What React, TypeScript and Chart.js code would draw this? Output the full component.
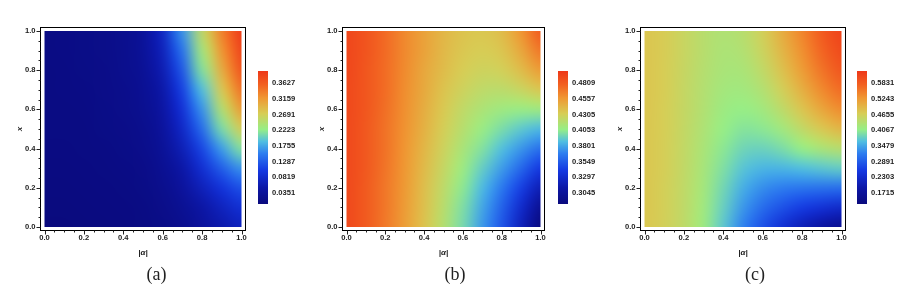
import React, { useEffect, useRef } from "react";
import { Chart, registerables } from "chart.js";

Chart.register(...registerables);

// ---------------- data ----------------
const ALPHA = [0, 0.1, 0.2, 0.3, 0.4, 0.5, 0.6, 0.7, 0.8, 0.9, 1.0];
// rows listed from x = 1.0 (top of plot) down to x = 0.0 (bottom)
const X_ROWS = [1.0, 0.9, 0.8, 0.7, 0.6, 0.5, 0.4, 0.3, 0.2, 0.1, 0.0];

const VALUES_A = [
  [0.010, 0.011, 0.013, 0.016, 0.022, 0.035, 0.075, 0.165, 0.255, 0.335, 0.395],
  [0.010, 0.011, 0.013, 0.016, 0.021, 0.033, 0.068, 0.145, 0.235, 0.320, 0.385],
  [0.009, 0.010, 0.012, 0.015, 0.020, 0.030, 0.060, 0.125, 0.215, 0.300, 0.370],
  [0.009, 0.010, 0.011, 0.014, 0.018, 0.027, 0.052, 0.108, 0.190, 0.275, 0.345],
  [0.008, 0.009, 0.010, 0.013, 0.017, 0.024, 0.045, 0.092, 0.165, 0.245, 0.315],
  [0.008, 0.008, 0.009, 0.012, 0.015, 0.021, 0.038, 0.078, 0.140, 0.210, 0.270],
  [0.007, 0.007, 0.008, 0.010, 0.013, 0.018, 0.032, 0.064, 0.112, 0.170, 0.215],
  [0.006, 0.006, 0.007, 0.009, 0.011, 0.015, 0.026, 0.050, 0.088, 0.130, 0.165],
  [0.005, 0.005, 0.006, 0.007, 0.009, 0.012, 0.020, 0.038, 0.066, 0.095, 0.120],
  [0.004, 0.004, 0.005, 0.006, 0.007, 0.010, 0.016, 0.028, 0.048, 0.070, 0.090],
  [0.003, 0.003, 0.004, 0.005, 0.006, 0.008, 0.013, 0.022, 0.038, 0.055, 0.070],
];

const VALUES_B = [
  [0.492, 0.485, 0.475, 0.463, 0.452, 0.443, 0.437, 0.435, 0.440, 0.458, 0.482],
  [0.492, 0.485, 0.475, 0.463, 0.452, 0.442, 0.435, 0.432, 0.436, 0.450, 0.470],
  [0.492, 0.484, 0.474, 0.462, 0.450, 0.440, 0.432, 0.428, 0.430, 0.440, 0.455],
  [0.491, 0.484, 0.474, 0.461, 0.449, 0.437, 0.428, 0.422, 0.421, 0.426, 0.435],
  [0.491, 0.484, 0.473, 0.460, 0.447, 0.434, 0.423, 0.415, 0.410, 0.408, 0.410],
  [0.491, 0.483, 0.472, 0.459, 0.445, 0.431, 0.419, 0.408, 0.399, 0.391, 0.385],
  [0.491, 0.483, 0.472, 0.458, 0.443, 0.428, 0.414, 0.401, 0.388, 0.375, 0.362],
  [0.491, 0.483, 0.471, 0.457, 0.441, 0.425, 0.409, 0.393, 0.377, 0.359, 0.340],
  [0.491, 0.482, 0.470, 0.456, 0.439, 0.422, 0.404, 0.386, 0.366, 0.343, 0.319],
  [0.491, 0.482, 0.470, 0.455, 0.438, 0.420, 0.400, 0.380, 0.357, 0.330, 0.300],
  [0.491, 0.482, 0.469, 0.454, 0.437, 0.418, 0.398, 0.376, 0.352, 0.322, 0.288],
];

const VALUES_C = [
  [0.478, 0.470, 0.455, 0.440, 0.432, 0.440, 0.465, 0.505, 0.545, 0.585, 0.615],
  [0.478, 0.470, 0.455, 0.440, 0.430, 0.435, 0.458, 0.495, 0.535, 0.575, 0.605],
  [0.478, 0.469, 0.454, 0.438, 0.427, 0.428, 0.448, 0.482, 0.522, 0.560, 0.590],
  [0.478, 0.469, 0.453, 0.436, 0.422, 0.420, 0.435, 0.465, 0.502, 0.540, 0.568],
  [0.478, 0.468, 0.452, 0.434, 0.416, 0.410, 0.420, 0.445, 0.478, 0.512, 0.538],
  [0.477, 0.468, 0.451, 0.431, 0.410, 0.399, 0.403, 0.420, 0.448, 0.475, 0.495],
  [0.477, 0.467, 0.450, 0.428, 0.403, 0.385, 0.382, 0.392, 0.410, 0.428, 0.440],
  [0.477, 0.467, 0.449, 0.425, 0.395, 0.370, 0.358, 0.358, 0.365, 0.372, 0.378],
  [0.477, 0.466, 0.448, 0.422, 0.387, 0.353, 0.330, 0.318, 0.312, 0.308, 0.305],
  [0.477, 0.466, 0.447, 0.419, 0.380, 0.337, 0.303, 0.278, 0.258, 0.242, 0.228],
  [0.476, 0.465, 0.446, 0.416, 0.373, 0.322, 0.278, 0.240, 0.208, 0.180, 0.158],
];

const AXIS_TICKS = [0, 0.2, 0.4, 0.6, 0.8, 1.0];
const MINOR_TICKS = [0.05, 0.1, 0.15, 0.25, 0.3, 0.35, 0.45, 0.5, 0.55, 0.65, 0.7, 0.75, 0.85, 0.9, 0.95];

const CB_TICKS_A = [0.0351, 0.0819, 0.1287, 0.1755, 0.2223, 0.2691, 0.3159, 0.3627];
const CB_TICKS_B = [0.3045, 0.3297, 0.3549, 0.3801, 0.4053, 0.4305, 0.4557, 0.4809];
const CB_TICKS_C = [0.1715, 0.2303, 0.2891, 0.3479, 0.4067, 0.4655, 0.5243, 0.5831];

const CB_RANGE_A = [0.0013, 0.3995];
const CB_RANGE_B = [0.2863, 0.5007];
const CB_RANGE_C = [0.129, 0.6294];

const CAPTIONS = ["(a)", "(b)", "(c)"];
const X_TITLE = "|α|";
const Y_TITLE = "x";

// ---------------- styling / layout ----------------
const W = 919;
const H = 291;
const AXW = 30;
const AXH = 30;
const PAD_X = 4;
const PAD_Y = 3.5;
const CB_TOP = 71;
const CB_BOTTOM = 204;
const CB_W = 10;
const CB_CANVAS_W = 60;
const CB_AXIS_W = 40;

const PANELS = [
  { canvasLeft: 0, canvasWidth: 300, frame: [40.5, 27.5, 245.5, 230.5], cbLeft: 258, captionX: 156.5 },
  { canvasLeft: 300, canvasWidth: 300, frame: [342.5, 27.5, 544.5, 230.5], cbLeft: 557.5, captionX: 455 },
  { canvasLeft: 600, canvasWidth: 319, frame: [640.5, 27.5, 845.5, 230.5], cbLeft: 857, captionX: 755 },
];

const TICK_FONT = { family: "'Liberation Sans', Arial, sans-serif", size: 7.6, weight: "bold" as const };
const TICK_COLOR = "#222";

const STOPS: number[][] = [
  [0.0, 10, 10, 125],
  [0.12, 12, 22, 165],
  [0.25, 20, 55, 225],
  [0.38, 45, 125, 240],
  [0.47, 80, 190, 225],
  [0.56, 150, 238, 135],
  [0.68, 215, 205, 85],
  [0.8, 240, 150, 50],
  [0.9, 242, 95, 32],
  [1.0, 238, 55, 25],
];

function cmap(t: number): number[] {
  const u = Math.max(0, Math.min(1, t));
  for (let i = 1; i < STOPS.length; i++) {
    if (u <= STOPS[i][0]) {
      const a = STOPS[i - 1];
      const b = STOPS[i];
      const f = (u - a[0]) / (b[0] - a[0]);
      return [a[1] + (b[1] - a[1]) * f, a[2] + (b[2] - a[2]) * f, a[3] + (b[3] - a[3]) * f];
    }
  }
  const l = STOPS[STOPS.length - 1];
  return [l[1], l[2], l[3]];
}

const heatPlugin = {
  id: "heat",
  beforeDatasetsDraw(chart: any, _args: any, opts: any) {
    const { ctx } = chart;
    const xs = chart.scales.x;
    const ys = chart.scales.y;
    const pts = chart.data.datasets[0].data as { x: number; y: number; v: number }[];
    const cols = Array.from(new Set(pts.map((p) => p.x))).sort((a, b) => a - b);
    const rows = Array.from(new Set(pts.map((p) => p.y))).sort((a, b) => a - b);
    const nC = cols.length;
    const nR = rows.length;
    const off = document.createElement("canvas");
    off.width = nC;
    off.height = nR;
    const octx = off.getContext("2d")!;
    const img = octx.createImageData(nC, nR);
    const [lo, hi] = opts.range;
    pts.forEach((p) => {
      const c = cols.indexOf(p.x);
      const r = nR - 1 - rows.indexOf(p.y);
      const col = cmap((p.v - lo) / (hi - lo));
      const k = (r * nC + c) * 4;
      img.data[k] = Math.round(col[0]);
      img.data[k + 1] = Math.round(col[1]);
      img.data[k + 2] = Math.round(col[2]);
      img.data[k + 3] = 255;
    });
    octx.putImageData(img, 0, 0);
    const dx = (cols[1] - cols[0]) / 2;
    const dy = (rows[1] - rows[0]) / 2;
    const x0 = xs.getPixelForValue(cols[0] - dx);
    const x1 = xs.getPixelForValue(cols[nC - 1] + dx);
    const y0 = ys.getPixelForValue(rows[nR - 1] + dy);
    const y1 = ys.getPixelForValue(rows[0] - dy);
    const cx0 = xs.getPixelForValue(cols[0]);
    const cx1 = xs.getPixelForValue(cols[nC - 1]);
    const cy0 = ys.getPixelForValue(rows[nR - 1]);
    const cy1 = ys.getPixelForValue(rows[0]);
    ctx.save();
    ctx.beginPath();
    ctx.rect(cx0, cy0, cx1 - cx0, cy1 - cy0);
    ctx.clip();
    ctx.imageSmoothingEnabled = true;
    ctx.imageSmoothingQuality = "high";
    ctx.drawImage(off, x0, y0, x1 - x0, y1 - y0);
    ctx.restore();
  },
  afterDraw(chart: any) {
    const { ctx, chartArea } = chart;
    const xs = chart.scales.x;
    const ys = chart.scales.y;
    ctx.save();
    ctx.strokeStyle = "#000";
    ctx.lineWidth = 1;
    ctx.strokeRect(chartArea.left, chartArea.top, chartArea.right - chartArea.left, chartArea.bottom - chartArea.top);
    ctx.strokeStyle = "#222";
    const drawTicks = (vals: number[], len: number) => {
      vals.forEach((v) => {
        const px = Math.round(xs.getPixelForValue(v)) + 0.5;
        ctx.beginPath();
        ctx.moveTo(px, chartArea.bottom);
        ctx.lineTo(px, chartArea.bottom + len);
        ctx.stroke();
        const py = Math.round(ys.getPixelForValue(v)) + 0.5;
        ctx.beginPath();
        ctx.moveTo(chartArea.left, py);
        ctx.lineTo(chartArea.left - len, py);
        ctx.stroke();
      });
    };
    drawTicks(AXIS_TICKS, 4);
    drawTicks(MINOR_TICKS, 2);
    ctx.restore();
  },
};

const colorbarPlugin = {
  id: "colorbar",
  beforeDatasetsDraw(chart: any) {
    const { ctx, chartArea } = chart;
    const ys = chart.scales.y;
    const lo = ys.min;
    const hi = ys.max;
    ctx.save();
    for (let y = Math.floor(chartArea.top); y < Math.ceil(chartArea.bottom); y++) {
      const v = ys.getValueForPixel(y + 0.5);
      const c = cmap((v - lo) / (hi - lo));
      ctx.fillStyle = `rgb(${Math.round(c[0])},${Math.round(c[1])},${Math.round(c[2])})`;
      ctx.fillRect(chartArea.left, y, chartArea.right - chartArea.left, 1);
    }
    ctx.restore();
  },
};

type PanelProps = {
  idx: number;
  values: number[][];
  cbTicks: number[];
  cbRange: number[];
};

function HeatPanel({ idx, values, cbTicks, cbRange }: PanelProps) {
  const heatRef = useRef<HTMLCanvasElement>(null);
  const cbRef = useRef<HTMLCanvasElement>(null);
  const layout = PANELS[idx];

  useEffect(() => {
    const [fl, ft, fr, fb] = layout.frame;
    const frameW = fr - fl;
    const frameH = fb - ft;
    const padXu = PAD_X / (frameW - 2 * PAD_X);
    const padYu = PAD_Y / (frameH - 2 * PAD_Y);

    const pts: { x: number; y: number; v: number }[] = [];
    X_ROWS.forEach((xv, r) => {
      ALPHA.forEach((a, c) => {
        pts.push({ x: a, y: xv, v: values[r][c] });
      });
    });

    const heat = new Chart(heatRef.current!, {
      type: "scatter",
      data: { datasets: [{ data: pts as any, pointRadius: 0, pointHoverRadius: 0 }] },
      options: {
        animation: false,
        responsive: false,
        maintainAspectRatio: false,
        events: [],
        layout: {
          padding: {
            left: fl - layout.canvasLeft - AXW,
            top: ft,
            right: layout.canvasLeft + layout.canvasWidth - fr,
            bottom: H - fb - AXH,
          },
        },
        plugins: {
          legend: { display: false },
          tooltip: { enabled: false },
          heat: { range: cbRange },
        } as any,
        scales: {
          x: {
            type: "linear",
            min: -padXu,
            max: 1 + padXu,
            afterBuildTicks: (s: any) => {
              s.ticks = AXIS_TICKS.map((v) => ({ value: v }));
            },
            afterFit: (s: any) => {
              s.height = AXH;
            },
            grid: { display: false, drawTicks: false },
            border: { display: false },
            ticks: {
              padding: 3,
              font: TICK_FONT,
              color: TICK_COLOR,
              maxRotation: 0,
              autoSkip: false,
              callback: (v: any) => Number(v).toFixed(1),
            },
            title: {
              display: true,
              text: X_TITLE,
              color: "#222",
              font: { family: "'Liberation Sans', Arial, sans-serif", size: 8, weight: "bold", style: "italic" },
              padding: { top: 0, bottom: 3 },
            },
          },
          y: {
            type: "linear",
            min: -padYu,
            max: 1 + padYu,
            afterBuildTicks: (s: any) => {
              s.ticks = AXIS_TICKS.map((v) => ({ value: v }));
            },
            afterFit: (s: any) => {
              s.width = AXW;
            },
            grid: { display: false, drawTicks: false },
            border: { display: false },
            ticks: {
              padding: 5,
              font: TICK_FONT,
              color: TICK_COLOR,
              autoSkip: false,
              callback: (v: any) => Number(v).toFixed(1),
            },
            title: {
              display: true,
              text: Y_TITLE,
              color: "#222",
              font: { family: "'Liberation Sans', Arial, sans-serif", size: 8, weight: "bold", style: "italic" },
              padding: { top: 4.2, bottom: 0 },
            },
          },
        },
      } as any,
      plugins: [heatPlugin],
    });

    const cb = new Chart(cbRef.current!, {
      type: "scatter",
      data: { datasets: [{ data: [] }] },
      options: {
        animation: false,
        responsive: false,
        maintainAspectRatio: false,
        events: [],
        layout: {
          padding: {
            left: 8,
            top: CB_TOP,
            right: CB_CANVAS_W - 8 - CB_W - CB_AXIS_W,
            bottom: H - CB_BOTTOM,
          },
        },
        plugins: { legend: { display: false }, tooltip: { enabled: false } },
        scales: {
          x: { type: "linear", display: false, min: 0, max: 1 },
          y: {
            type: "linear",
            position: "right",
            min: cbRange[0],
            max: cbRange[1],
            afterBuildTicks: (s: any) => {
              s.ticks = cbTicks.map((v) => ({ value: v }));
            },
            afterFit: (s: any) => {
              s.width = CB_AXIS_W;
            },
            grid: { display: false, drawTicks: false },
            border: { display: false },
            ticks: {
              padding: 4,
              font: TICK_FONT,
              color: TICK_COLOR,
              autoSkip: false,
              callback: (v: any) => Number(v).toFixed(4),
            },
          },
        },
      } as any,
      plugins: [colorbarPlugin],
    });

    return () => {
      heat.destroy();
      cb.destroy();
    };
  }, []);

  return (
    <>
      <canvas
        ref={heatRef}
        width={layout.canvasWidth}
        height={H}
        style={{ position: "absolute", left: layout.canvasLeft, top: 0, width: layout.canvasWidth, height: H }}
      />
      <canvas
        ref={cbRef}
        width={CB_CANVAS_W}
        height={H}
        style={{ position: "absolute", left: layout.cbLeft - 8, top: 0, width: CB_CANVAS_W, height: H }}
      />
      <div
        style={{
          position: "absolute",
          left: layout.captionX - 30,
          width: 60,
          top: 264,
          textAlign: "center",
          fontFamily: "'Liberation Serif', 'Times New Roman', serif",
          fontSize: 18,
          lineHeight: "20px",
          color: "#222",
        }}
      >
        {CAPTIONS[idx]}
      </div>
    </>
  );
}

export default function App() {
  return (
    <div style={{ position: "absolute", left: 0, top: 0, width: W, height: H, background: "#fff", overflow: "hidden" }}>
      <HeatPanel idx={0} values={VALUES_A} cbTicks={CB_TICKS_A} cbRange={CB_RANGE_A} />
      <HeatPanel idx={1} values={VALUES_B} cbTicks={CB_TICKS_B} cbRange={CB_RANGE_B} />
      <HeatPanel idx={2} values={VALUES_C} cbTicks={CB_TICKS_C} cbRange={CB_RANGE_C} />
    </div>
  );
}
